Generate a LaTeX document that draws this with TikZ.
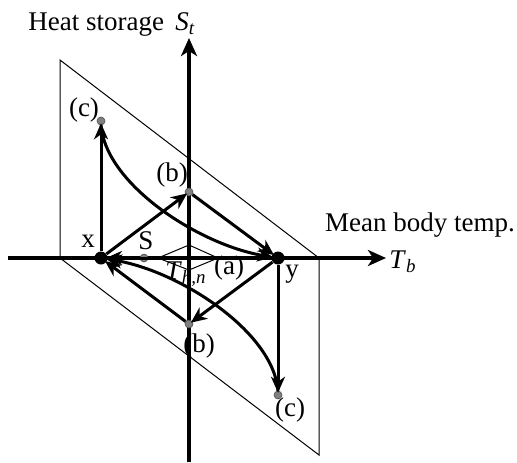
\documentclass[tikz,border=0pt]{standalone}
\usepackage{fontspec}
\setmainfont{Liberation Serif}
\usetikzlibrary{arrows.meta}

\begin{document}
\begin{tikzpicture}[
  x=0.5pt, y=-0.5pt,
  every node/.style={font=\fontsize{13.5}{16}\selectfont, inner sep=1pt},
  axis/.style={
    line width=1.8pt,
    -{Stealth[length=9pt, width=8pt, inset=2.5pt]},
  },
  link/.style={
    line width=1.5pt,
    -{Stealth[length=8pt, width=7pt, inset=2.5pt]},
    shorten >=-1pt,
  },
  plane/.style={line width=0.5pt},
  state/.style={circle, fill=black, minimum size=6.5pt, inner sep=0pt},
  midstate/.style={circle, fill=gray, draw=black!70, line width=0.3pt, minimum size=4pt, inner sep=0pt},
]
  \useasboundingbox (0,0) rectangle (517,462);

  % inclined plane and the small square round the origin
  \draw[plane] (60,60) -- (319,258) -- (319,455) -- (60,258) -- cycle;
  \draw[plane] (158,258) -- (189,245) -- (218,258) -- (189,270) -- cycle;

  % axes
  \coordinate (tbL) at (8,258);
  \coordinate (tbR) at (386,258);
  \coordinate (stB) at (189,462);
  \coordinate (stT) at (189,38);
  \draw[axis] (tbL) -- (tbR);
  \draw[axis] (stB) -- (stT);

  % states
  \node[state] (x) at (101,258) {};
  \node[state] (y) at (278,258) {};
  \node[midstate] (s) at (144,258) {};
  \node[midstate] (bup) at (189,192) {};
  \node[midstate] (bdn) at (189,324) {};
  \node[midstate] (cup) at (101,121) {};
  \node[midstate] (cdn) at (278,395) {};

  % labels
  \node (stlabel) at (112,24) {Heat storage \,\textit{S}\textsubscript{\textit{t}}};
  \node (tblabel) at (420,225) {Mean body temp.};
  \node[anchor=west] (tb) at (387,262) {\textit{T}\textsubscript{\textit{b}}};
  \node (xlabel) at (88,241) {x};
  \node (ylabel) at (292,274) {y};
  \node (slabel) at (146,241) {S};
  \node (alabel) at (229,268) {(a)};
  \node (thn) at (186,274) {\textit{T}\textsubscript{\textit{h,n}}};
  \node (bupl) at (172,175) {(b)};
  \node (bdnl) at (199,346) {(b)};
  \node (cupl) at (84,110) {(c)};
  \node (cdnl) at (290,410) {(c)};

  % cycles
  \draw[link] (x) -- (bup);
  \draw[link] (bup) -- (y);
  \draw[link] (y) -- (bdn);
  \draw[link] (bdn) -- (x);
  \draw[link] (y) -- (x);
  \draw[link] (x) -- (cup);
  \draw[link] (cup.south) .. controls (106,185) and (200,245) .. (y);
  \draw[link] (y) -- (cdn);
  \draw[link] (cdn.north) .. controls (273,331) and (179,271) .. (x);
\end{tikzpicture}
\end{document}
